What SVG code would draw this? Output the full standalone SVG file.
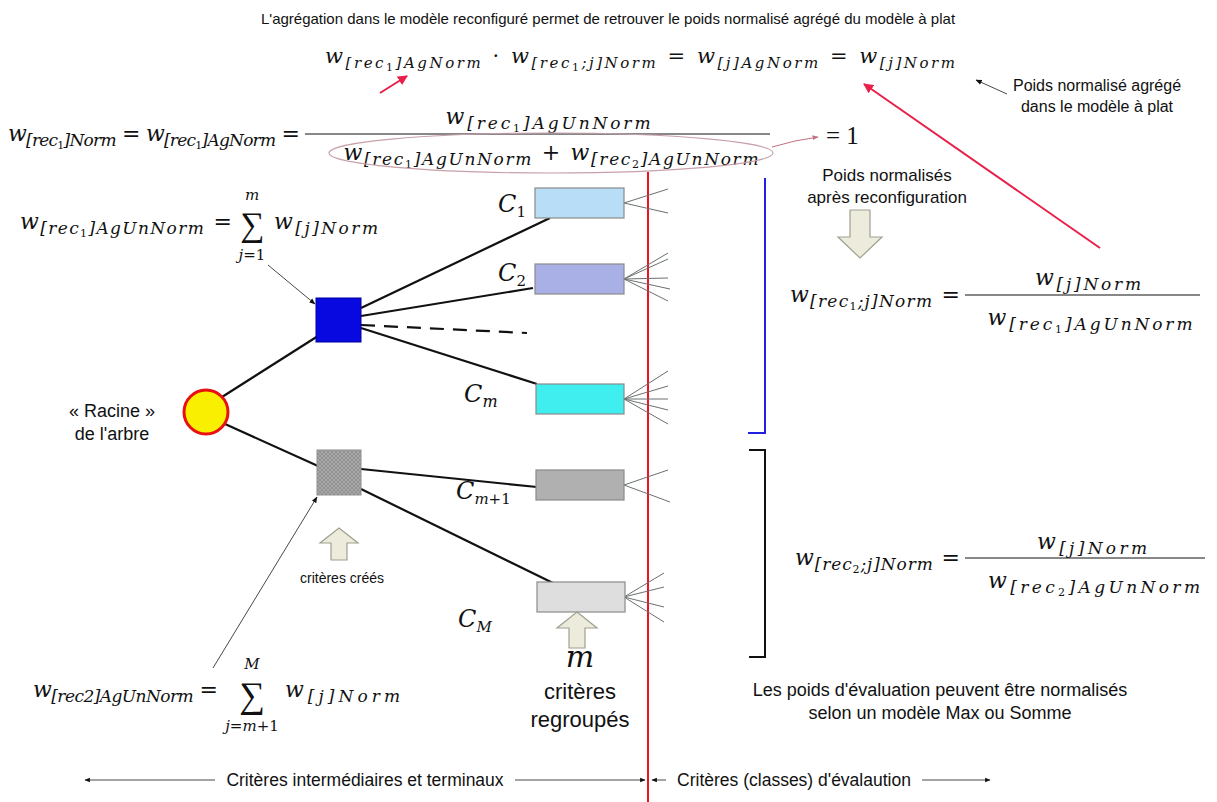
<svg xmlns="http://www.w3.org/2000/svg" width="1217" height="802" viewBox="0 0 1217 802">
<style>
.m{font-family:"DejaVu Serif","Liberation Serif",serif;font-style:italic;fill:#111}
.s{font-size:17px}
.ss{font-size:11px;font-style:normal}
.o{font-style:normal}
.t{font-family:"Liberation Sans",Arial,sans-serif;fill:#111}
.sig{font-family:"Liberation Serif","DejaVu Serif",serif;font-style:normal;fill:#111}
.edge{stroke:#111;stroke-width:2.2;fill:none}
.fan{stroke:#6a7070;stroke-width:1;fill:none}
.thin{stroke:#333;stroke-width:0.9;fill:none}
.box{stroke:#8a8a8a;stroke-width:1.2}
.blk{fill:#ecebdc;stroke:#a0a090;stroke-width:1.2}
.bar{stroke:#111;stroke-width:1.2}
</style>
<defs>
<marker id="ah" viewBox="0 0 10 10" refX="9" refY="5" markerWidth="7" markerHeight="7" orient="auto"><path d="M0,1 L10,5 L0,9 z" fill="#111"/></marker>
<marker id="ahr" viewBox="0 0 10 10" refX="9" refY="5" markerWidth="5" markerHeight="5" orient="auto"><path d="M0,0 L10,5 L0,10 z" fill="#e8204a"/></marker>
<marker id="ahp" viewBox="0 0 10 10" refX="9" refY="5" markerWidth="6" markerHeight="6" orient="auto"><path d="M0,1 L10,5 L0,9 z" fill="#c07080"/></marker>
<marker id="ahs" viewBox="0 0 10 10" refX="9" refY="5" markerWidth="6" markerHeight="6" orient="auto-start-reverse"><path d="M0,1 L10,5 L0,9 z" fill="#111"/></marker>
<pattern id="hatch" width="4" height="4" patternUnits="userSpaceOnUse"><rect width="4" height="4" fill="#a8a8a8"/><path d="M0,0 L4,4 M4,0 L0,4" stroke="#8c8c8c" stroke-width="0.8"/></pattern>
</defs>
<rect width="1217" height="802" fill="#fff"/>

<text class="t" x="608" y="24" text-anchor="middle" font-size="15">L'agrégation dans le modèle reconfiguré permet de retrouver le poids normalisé agrégé du modèle à plat</text>

<!-- top formula -->
<text class="m" x="325" y="63" font-size="21" textLength="630">w<tspan class="s" dy="5" style="font-size:15px">[rec</tspan><tspan class="ss" dy="3">1</tspan><tspan class="s" dy="-3" style="font-size:15px">]AgNorm</tspan><tspan class="o" dy="-5"> · </tspan>w<tspan class="s" dy="5" style="font-size:15px">[rec</tspan><tspan class="ss" dy="3">1</tspan><tspan class="s" dy="-3" style="font-size:15px">;j]Norm</tspan><tspan class="o" dy="-5"> = </tspan>w<tspan class="s" dy="5" style="font-size:15px">[j]AgNorm</tspan><tspan class="o" dy="-5"> = </tspan>w<tspan class="s" dy="5" style="font-size:15px">[j]Norm</tspan></text>

<g id="note-flat">
<text class="t" x="1097" y="91" text-anchor="middle" font-size="16">Poids normalisé agrégé</text>
<text class="t" x="1097" y="112" text-anchor="middle" font-size="16">dans le modèle à plat</text>
</g>

<!-- second formula -->
<text class="m" x="8" y="141" font-size="22" textLength="292">w<tspan class="s" dy="5">[rec</tspan><tspan class="ss" dy="3">1</tspan><tspan class="s" dy="-3">]Norm</tspan><tspan class="o" dy="-5"> = </tspan>w<tspan class="s" dy="5">[rec</tspan><tspan class="ss" dy="3">1</tspan><tspan class="s" dy="-3">]AgNorm</tspan><tspan class="o" dy="-5"> =</tspan></text>
<text class="m" x="548" y="124" font-size="22" text-anchor="middle" textLength="205">w<tspan class="s" dy="5">[rec</tspan><tspan class="ss" dy="3">1</tspan><tspan class="s" dy="-3">]AgUnNorm</tspan></text>
<line class="bar" x1="305" y1="134" x2="770" y2="134"/>
<text class="m" x="551" y="160" font-size="22" text-anchor="middle" textLength="415">w<tspan class="s" dy="5">[rec</tspan><tspan class="ss" dy="3">1</tspan><tspan class="s" dy="-3">]AgUnNorm</tspan><tspan class="o" dy="-5"> + </tspan>w<tspan class="s" dy="5">[rec</tspan><tspan class="ss" dy="3">2</tspan><tspan class="s" dy="-3">]AgUnNorm</tspan></text>
<ellipse cx="551" cy="153" rx="222" ry="20" fill="none" stroke="#c8a0a8" stroke-width="1.1"/>
<text class="sig" x="826" y="144" font-size="25">= 1</text>

<!-- sum formula 1 -->
<text class="m" x="20" y="229" font-size="22" textLength="212">w<tspan class="s" dy="5">[rec</tspan><tspan class="ss" dy="3">1</tspan><tspan class="s" dy="-3">]AgUnNorm</tspan><tspan class="o" dy="-5"> =</tspan></text>
<text class="sig" x="252" y="236" font-size="34" text-anchor="middle">∑</text>
<text class="m" x="252" y="200" font-size="15" text-anchor="middle">m</text>
<text class="m" x="252" y="260" font-size="15" text-anchor="middle">j<tspan class="o">=1</tspan></text>
<text class="m" x="274" y="229" font-size="22" textLength="104">w<tspan class="s" dy="5">[j]Norm</tspan></text>

<!-- sum formula 2 -->
<text class="m" x="33" y="697" font-size="22" textLength="185">w<tspan class="s" dy="5">[rec2]AgUnNorm</tspan><tspan class="o" dy="-5"> =</tspan></text>
<text class="sig" x="252" y="707" font-size="36" text-anchor="middle">∑</text>
<text class="m" x="252" y="669" font-size="15" text-anchor="middle">M</text>
<text class="m" x="252" y="731" font-size="15" text-anchor="middle">j<tspan class="o">=</tspan>m<tspan class="o">+1</tspan></text>
<text class="m" x="285" y="697" font-size="22" textLength="115">w<tspan class="s" dy="5">[j]Norm</tspan></text>

<!-- right formulas -->
<text class="m" x="790" y="302" font-size="22" textLength="170">w<tspan class="s" dy="5">[rec</tspan><tspan class="ss" dy="3">1</tspan><tspan class="s" dy="-3">;j]Norm</tspan><tspan class="o" dy="-5"> =</tspan></text>
<text class="m" x="1088" y="285" font-size="22" text-anchor="middle" textLength="106">w<tspan class="s" dy="5">[j]Norm</tspan></text>
<line class="bar" x1="965" y1="295" x2="1200" y2="295"/>
<text class="m" x="1090" y="325" font-size="22" text-anchor="middle" textLength="205">w<tspan class="s" dy="5">[rec</tspan><tspan class="ss" dy="3">1</tspan><tspan class="s" dy="-3">]AgUnNorm</tspan></text>

<text class="m" x="795" y="565" font-size="22" textLength="165">w<tspan class="s" dy="5">[rec</tspan><tspan class="ss" dy="3">2</tspan><tspan class="s" dy="-3">;j]Norm</tspan><tspan class="o" dy="-5"> =</tspan></text>
<text class="m" x="1092" y="549" font-size="22" text-anchor="middle" textLength="110">w<tspan class="s" dy="5">[j]Norm</tspan></text>
<line class="bar" x1="965" y1="558" x2="1205" y2="558"/>
<text class="m" x="1094" y="588" font-size="22" text-anchor="middle" textLength="212">w<tspan class="s" dy="5">[rec</tspan><tspan class="ss" dy="3">2</tspan><tspan class="s" dy="-3">]AgUnNorm</tspan></text>

<g id="note-reconf">
<text class="t" x="887" y="181" text-anchor="middle" font-size="17">Poids normalisés</text>
<text class="t" x="887" y="203" text-anchor="middle" font-size="17">après reconfiguration</text>
<polygon class="blk" points="850,210 870,210 870,237 882,237 860,258 838,237 850,237"/>
</g>

<g id="note-eval">
<text class="t" x="940" y="696" text-anchor="middle" font-size="18">Les poids d'évaluation peuvent être normalisés</text>
<text class="t" x="940" y="719" text-anchor="middle" font-size="18">selon un modèle Max ou Somme</text>
</g>

<line x1="648" y1="172" x2="648" y2="802" stroke="#f01020" stroke-width="2"/>
<polyline points="765,178 765,433 748,433" fill="none" stroke="#2020e0" stroke-width="2"/>
<polyline points="749,450 765,450 765,657 749,657" fill="none" stroke="#111" stroke-width="2"/>

<g id="connectors">
<line class="edge" x1="222" y1="397" x2="318" y2="336"/>
<line class="edge" x1="225" y1="424" x2="318" y2="466"/>
<line class="edge" x1="361" y1="308" x2="550" y2="218"/>
<line class="edge" x1="361" y1="316" x2="533" y2="288"/>
<line class="edge" x1="361" y1="325" x2="527" y2="333" stroke-dasharray="14,9"/>
<line class="edge" x1="361" y1="328" x2="537" y2="384"/>
<line class="edge" x1="361" y1="469" x2="537" y2="487"/>
<line class="edge" x1="361" y1="489" x2="553" y2="583"/>
<path class="fan" d="M624,203 L668,189 M624,203 L668,213"/>
<path class="fan" d="M624,279 L668,253 M624,279 L668,259 M624,279 L668,278 M624,279 L670,289 M624,279 L668,301"/>
<path class="fan" d="M624,399 L668,371 M624,399 L668,386 M624,399 L668,399 M624,399 L668,410 M624,399 L668,424"/>
<path class="fan" d="M624,485 L668,470 M624,485 L670,502"/>
<path class="fan" d="M624,597 L664,573 M624,597 L664,587 M624,597 L664,607 M624,597 L664,622"/>
<line class="thin" x1="268" y1="265" x2="315" y2="304" marker-end="url(#ah)"/>
<line class="thin" x1="213" y1="668" x2="317" y2="497" marker-end="url(#ah)"/>
<line class="thin" x1="1007" y1="94" x2="976" y2="80" marker-end="url(#ah)"/>
<line x1="380" y1="93" x2="407" y2="76" stroke="#e8204a" stroke-width="2" marker-end="url(#ahr)"/>
<line x1="1100" y1="248" x2="864" y2="84" stroke="#e8204a" stroke-width="2" marker-end="url(#ahr)"/>
<path d="M772,147 Q795,140 818,137" fill="none" stroke="#c07080" stroke-width="1" marker-end="url(#ahp)"/>
</g>

<g id="root">
<circle cx="206" cy="412" r="22" fill="#f8f000" stroke="#e81010" stroke-width="3"/>
<text class="t" x="112" y="417" text-anchor="middle" font-size="18">« Racine »</text>
<text class="t" x="112" y="440" text-anchor="middle" font-size="18">de l'arbre</text>
</g>
<g id="rec1"><rect x="316" y="298" width="45" height="44" fill="#0808e0" stroke="#0000a0" stroke-width="1"/></g>
<g id="rec2"><rect x="317" y="450" width="44" height="45" fill="url(#hatch)" stroke="#909090" stroke-width="1"/></g>
<g id="c1"><rect class="box" x="535" y="188" width="89" height="30" fill="#b8ddf6"/><text class="m" x="498" y="212" font-size="24">C<tspan class="o" font-size="15" dy="5">1</tspan></text></g>
<g id="c2"><rect class="box" x="535" y="264" width="89" height="30" fill="#a9b0e6"/><text class="m" x="498" y="281" font-size="24">C<tspan class="o" font-size="15" dy="5">2</tspan></text></g>
<g id="cm"><rect class="box" x="536" y="384" width="88" height="30" fill="#40eef0"/><text class="m" x="464" y="402" font-size="24">C<tspan font-size="16" dy="5">m</tspan></text></g>
<g id="cm1"><rect class="box" x="536" y="470" width="88" height="30" fill="#b0b0b0"/><text class="m" x="456" y="499" font-size="24">C<tspan font-size="15" dy="5">m<tspan class="o">+1</tspan></tspan></text></g>
<g id="cM"><rect class="box" x="537" y="582" width="88" height="30" fill="#dedede"/><text class="m" x="458" y="627" font-size="24">C<tspan font-size="15" dy="5">M</tspan></text></g>

<g id="created">
<polygon class="blk" points="339,528 358,543 347,543 347,560 331,560 331,543 320,543"/>
<text class="t" x="342" y="583" text-anchor="middle" font-size="14">critères créés</text>
</g>
<g id="grouped">
<polygon class="blk" points="577,612 597,628 585,628 585,648 569,648 569,628 557,628"/>
<text class="m" x="580" y="667" font-size="30" text-anchor="middle">m</text>
<text class="t" x="580" y="699" font-size="22" text-anchor="middle">critères</text>
<text class="t" x="580" y="727" font-size="22" text-anchor="middle">regroupés</text>
</g>

<g id="axis">
<line class="thin" x1="85" y1="780" x2="215" y2="780" marker-start="url(#ahs)"/>
<line class="thin" x1="515" y1="780" x2="645" y2="780" marker-end="url(#ahs)"/>
<text class="t" x="365" y="786" text-anchor="middle" font-size="17.5">Critères intermédiaires et terminaux</text>
<line class="thin" x1="652" y1="780" x2="666" y2="780" marker-start="url(#ahs)"/>
<line class="thin" x1="922" y1="780" x2="990" y2="780" marker-end="url(#ahs)"/>
<text class="t" x="794" y="786" text-anchor="middle" font-size="17.5">Critères (classes) d'évalaution</text>
</g>
</svg>
